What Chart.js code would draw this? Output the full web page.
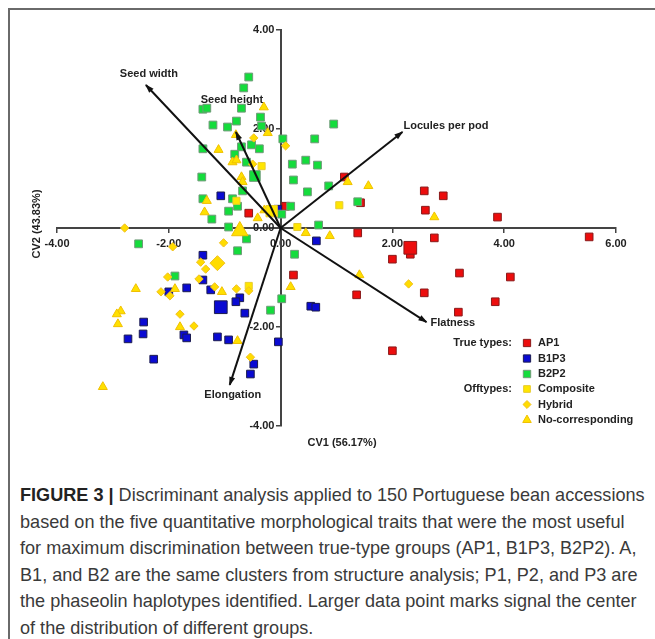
<!DOCTYPE html>
<html>
<head>
<meta charset="utf-8">
<script src="https://cdn.jsdelivr.net/npm/chart.js@4.4.1/dist/chart.umd.min.js"></script>
<style>
    html, body { margin: 0; padding: 0; background: #fff; }
    body { width: 655px; height: 639px; position: relative; overflow: hidden; }
    #frame { position: absolute; left: 8px; top: 8px; width: 700px; height: 700px; border: 2px solid #6a6a6a; box-sizing: border-box; }
    #plot { position: absolute; left: 0; top: 0; }
    #caption {
        position: absolute; left: 20px; top: 482px;
        font-family: "Liberation Sans", Arial, sans-serif; font-size: 18.1px; line-height: 26.5px;
        color: #3a3a3a; white-space: nowrap;
    }
    #caption b { color: #222; }
</style>
</head>
<body>
<div id="frame"></div>
<canvas id="plot" width="655" height="460"></canvas>
<div id="caption">
    <div><b>FIGURE 3 |</b> Discriminant analysis applied to 150 Portuguese bean accessions</div>
    <div>based on the five quantitative morphological traits that were the most useful</div>
    <div>for maximum discrimination between true-type groups (AP1, B1P3, B2P2). A,</div>
    <div>B1, and B2 are the same clusters from structure analysis; P1, P2, and P3 are</div>
    <div>the phaseolin haplotypes identified. Larger data point marks signal the center</div>
    <div>of the distribution of different groups.</div>
</div>
<script>
// CV1 / CV2 scores
const ap1 = [[0.09,0.44],[-0.57,0.30],[1.14,1.03],[1.43,0.51],[2.57,0.75],[2.91,0.65],[2.59,0.36],[3.88,0.22],[1.38,-0.10],[2.75,-0.20],[5.52,-0.18],[2.32,-0.53],[2.00,-0.63],[3.20,-0.91],[4.11,-0.99],[2.57,-1.31],[1.36,-1.35],[3.84,-1.49],[3.18,-1.70],[2.00,-2.48],[0.23,-0.95]];
const ap1Center = [[2.32,-0.40]];

const b1p3 = [[-1.07,0.65],[-0.05,0.38],[0.64,-0.26],[-1.39,-0.55],[-1.39,-1.05],[-1.68,-1.21],[-1.25,-1.25],[-2.00,-1.29],[-0.73,-1.41],[-0.80,-1.49],[-0.64,-1.72],[0.54,-1.58],[0.63,-1.60],[-2.45,-1.90],[-2.46,-2.14],[-1.73,-2.16],[-1.68,-2.22],[-1.13,-2.20],[-0.93,-2.26],[-2.73,-2.24],[-0.04,-2.30],[-2.27,-2.65],[-0.48,-2.75],[-0.54,-2.95]];
const b1p3Center = [[-1.07,-1.60]];

const b2p2 = [[-0.57,3.05],[-0.66,2.83],[-1.39,2.40],[-1.32,2.42],[-0.70,2.42],[-0.36,2.24],[-0.79,2.16],[-0.34,2.06],[-1.21,2.08],[-0.95,2.04],[0.04,1.80],[0.61,1.80],[0.95,2.10],[-1.39,1.60],[-0.52,1.68],[-0.70,1.64],[-0.38,1.60],[-0.82,1.49],[0.21,1.29],[0.45,1.37],[0.66,1.27],[-0.61,1.33],[-1.41,1.03],[0.23,0.97],[0.86,0.85],[-0.68,0.75],[0.48,0.73],[-1.39,0.59],[-0.86,0.59],[-0.77,0.44],[-0.93,0.34],[-1.23,0.18],[0.18,0.44],[0.02,0.28],[0.68,0.06],[1.38,0.53],[-0.93,0.02],[-0.61,-0.22],[-0.77,-0.46],[0.25,-0.53],[-2.54,-0.32],[-1.89,-0.97],[0.02,-1.43],[-0.18,-1.66]];
const b2p2Center = [[-0.46,1.05]];

const composite = [[-0.34,1.25],[-0.79,0.55],[0.30,0.02],[1.05,0.46],[-0.57,-1.17]];
const compositeCenter = [[-0.16,0.34]];

const hybrid = [[-0.48,1.82],[0.09,1.66],[-0.50,1.29],[-2.79,0.00],[-1.02,-0.30],[-1.93,-0.38],[-1.43,-0.69],[-1.34,-0.83],[-2.02,-0.99],[-1.46,-1.03],[-1.18,-1.19],[-0.79,-1.23],[-0.57,-1.27],[-2.14,-1.29],[-1.98,-1.37],[-1.80,-1.74],[-1.55,-1.98],[-0.54,-2.61],[2.29,-1.13]];
const hybridCenter = [[-1.13,-0.71]];

const noCorr = [[-0.30,2.44],[-0.23,1.92],[-0.80,1.88],[-1.11,1.58],[-0.86,1.33],[-0.79,1.37],[-0.70,1.03],[-0.68,0.93],[-1.32,0.55],[-1.36,0.32],[-0.41,0.20],[-0.29,0.36],[1.20,0.93],[1.57,0.85],[2.75,0.22],[0.45,-0.10],[0.88,-0.16],[1.41,-0.95],[-1.05,-1.29],[0.18,-1.19],[-2.59,-1.23],[-1.89,-1.23],[-2.86,-1.68],[-2.93,-1.74],[-2.91,-1.94],[-1.80,-2.00],[-0.77,-2.28],[-3.18,-3.21]];
const noCorrCenter = [[-0.73,-0.06]];

// trait vectors (biplot arrows)
const traitNames = ['Seed width', 'Seed height', 'Locules per pod', 'Flatness', 'Elongation'];
const traitX = [-2.41, -0.80, 2.18, 2.61, -0.91];
const traitY = [2.89, 1.94, 1.94, -1.90, -3.17];

const xTicks = [-4, -2, 0, 2, 4, 6];
const yTicks = [-4, -2, 0, 2, 4];

const FONT = '"Liberation Sans", Arial, sans-serif';
const TEXT = '#222';

const groups = [
    { label: 'AP1', pts: ap1, center: ap1Center, style: 'rect', fill: '#ec0d0d', line: '#8a1a1a', r: 5.4, rc: 9, order: 7 },
    { label: 'B1P3', pts: b1p3, center: b1p3Center, style: 'rect', fill: '#0a0ad2', line: '#1c1c50', r: 5.4, rc: 9, order: 6 },
    { label: 'B2P2', pts: b2p2, center: b2p2Center, style: 'rect', fill: '#14dc3c', line: '#6f9a78', r: 5.5, rc: 7.5, order: 5 },
    { label: 'Composite', pts: composite, center: compositeCenter, style: 'rect', fill: '#ffe600', line: '#e8cc30', r: 5, rc: 8, order: 4 },
    { label: 'Hybrid', pts: hybrid, center: hybridCenter, style: 'rectRot', fill: '#ffdc00', line: '#f0c020', r: 4.2, rc: 7.5, order: 3 },
    { label: 'No-corresponding', pts: noCorr, center: noCorrCenter, style: 'triangle', fill: '#ffe000', line: '#f0c000', r: 5.2, rc: 9.5, order: 2 }
];

const toXY = (list) => list.map(p => ({ x: p[0], y: p[1] }));

const datasets = [];
groups.forEach(g => {
    datasets.push({
        label: g.label, data: toXY(g.pts), pointStyle: g.style, pointRadius: g.r,
        backgroundColor: g.fill, borderColor: g.line, borderWidth: 1, order: g.order
    });
    // larger marks = group centre
    datasets.push({
        label: g.label + ' centre', data: toXY(g.center), pointStyle: g.style, pointRadius: g.rc,
        backgroundColor: g.fill, borderColor: g.line, borderWidth: 1, order: 1
    });
});
traitNames.forEach((name, i) => {
    datasets.push({
        type: 'line', label: name,
        data: [{ x: 0, y: 0 }, { x: traitX[i], y: traitY[i] }],
        borderColor: '#111', borderWidth: 2, pointRadius: 0, fill: false, order: 0
    });
});

// where each arrow label sits relative to its tip
const labelPlace = [
    { align: 'center', dx: 3, dy: -11 },
    { align: 'center', dx: -4, dy: -32 },
    { align: 'left', dx: 1, dy: -6 },
    { align: 'left', dx: 4, dy: 1 },
    { align: 'center', dx: 3, dy: 10 }
];

const biplot = {
    id: 'biplot',
    afterDatasetsDraw(chart) {
        const { ctx, scales: { x, y } } = chart;
        const x0 = x.getPixelForValue(0), y0 = y.getPixelForValue(0);
        ctx.save();
        ctx.fillStyle = '#111';
        traitNames.forEach((name, i) => {
            const x1 = x.getPixelForValue(traitX[i]), y1 = y.getPixelForValue(traitY[i]);
            const a = Math.atan2(y1 - y0, x1 - x0);
            const len = 8, w = 3;
            ctx.beginPath();
            ctx.moveTo(x1 + Math.cos(a), y1 + Math.sin(a));
            ctx.lineTo(x1 - len * Math.cos(a) + w * Math.sin(a), y1 - len * Math.sin(a) - w * Math.cos(a));
            ctx.lineTo(x1 - len * Math.cos(a) - w * Math.sin(a), y1 - len * Math.sin(a) + w * Math.cos(a));
            ctx.closePath();
            ctx.fill();

            const lp = labelPlace[i];
            ctx.font = 'bold 11px ' + FONT;
            ctx.fillStyle = TEXT;
            ctx.textAlign = lp.align;
            ctx.textBaseline = 'middle';
            ctx.fillText(name, x1 + lp.dx, y1 + lp.dy);
            ctx.fillStyle = '#111';
        });
        ctx.restore();
    },
    afterDraw(chart) {
        const { ctx, chartArea } = chart;
        ctx.save();
        ctx.font = 'bold 11px ' + FONT;
        ctx.fillStyle = TEXT;
        ctx.textBaseline = 'middle';

        // axis titles
        ctx.textAlign = 'center';
        ctx.fillText('CV1 (56.17%)', 342, 443);
        ctx.save();
        ctx.translate(37, (chartArea.top + chartArea.bottom) / 2 - 4);
        ctx.rotate(-Math.PI / 2);
        ctx.fillText('CV2 (43.83%)', 0, 0);
        ctx.restore();

        // legend
        const rowY = [343, 358.5, 374, 389, 404.5, 420];
        groups.forEach((g, i) => {
            ctx.fillStyle = g.fill;
            ctx.strokeStyle = g.line;
            ctx.lineWidth = 1;
            Chart.helpers.drawPoint(ctx, { pointStyle: g.style, rotation: 0, radius: g.r * 0.95, borderWidth: 1 }, 527, rowY[i]);
            ctx.fillStyle = TEXT;
            ctx.textAlign = 'left';
            ctx.fillText(g.label, 538, rowY[i]);
        });
        ctx.textAlign = 'right';
        ctx.fillText('True types:', 512, rowY[0]);
        ctx.fillText('Offtypes:', 512, rowY[3]);
        ctx.restore();
    }
};

const tickFont = { family: FONT, size: 11, weight: 'bold' };

new Chart(document.getElementById('plot'), {
    type: 'scatter',
    data: { datasets: datasets },
    options: {
        responsive: false,
        animation: false,
        devicePixelRatio: 1,
        layout: { padding: { left: 57, right: 39, top: 30, bottom: 34 } },
        plugins: { legend: { display: false }, tooltip: { enabled: false } },
        scales: {
            x: {
                type: 'linear', min: -4, max: 6, position: { y: 0 },
                afterBuildTicks: s => { s.ticks = xTicks.map(v => ({ value: v })); },
                afterFit: s => { s.height = 0; },
                ticks: { autoSkip: false, maxRotation: 0, color: TEXT, font: tickFont, padding: 5, callback: v => v.toFixed(2) },
                grid: { drawOnChartArea: false, drawTicks: true, tickLength: 4, color: '#444', lineWidth: 1.5 },
                border: { color: '#444', width: 2 }
            },
            y: {
                type: 'linear', min: -4, max: 4, position: { x: 0 },
                afterBuildTicks: s => { s.ticks = yTicks.map(v => ({ value: v })); },
                afterFit: s => { s.width = 0; },
                // trailing spaces keep the right-aligned label clear of the axis line
                ticks: { autoSkip: false, color: TEXT, font: tickFont, padding: 2, callback: v => v.toFixed(2) + '  ' },
                grid: { drawOnChartArea: false, drawTicks: true, tickLength: 4, color: '#444', lineWidth: 1.5 },
                border: { color: '#444', width: 2 }
            }
        }
    },
    plugins: [biplot]
});
</script>
</body>
</html>
